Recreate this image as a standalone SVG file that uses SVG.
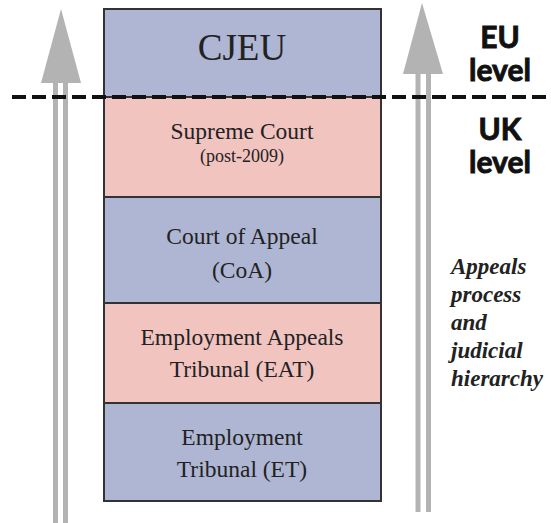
<svg xmlns="http://www.w3.org/2000/svg" width="551" height="523" viewBox="0 0 551 523">
<style>
.box{stroke:#333;stroke-width:2}
.blue{fill:#aeb6d3}
.pink{fill:#f1c4c0}
.t{font-family:"Liberation Serif",serif;fill:#222;text-anchor:middle;font-size:23.5px}
.lvl{font-family:Lato,"Open Sans",sans-serif;font-weight:bold;font-size:30px;fill:#111;stroke:#111;stroke-width:0.9px;text-anchor:middle}
.it{font-family:"Liberation Serif",serif;font-style:italic;font-weight:bold;font-size:23px;fill:#222}
.shaft{stroke:#b3b3b3;stroke-width:5;fill:none}
.head{fill:#b3b3b3}
</style>
<rect width="551" height="523" fill="#fff"/>
<g id="connectors">
<g id="arrow-left">
<line class="shaft" x1="55.5" y1="80" x2="55.5" y2="523"/>
<line class="shaft" x1="65.5" y1="80" x2="65.5" y2="523"/>
<polygon class="head" points="61,9 81,83 41,83"/>
</g>
<g id="arrow-right">
<line class="shaft" x1="418" y1="72" x2="418" y2="512"/>
<line class="shaft" x1="428.5" y1="72" x2="428.5" y2="512"/>
<polygon class="head" points="422,3 443,74 403,74"/>
</g>
</g>
<g id="cjeu"><rect class="box blue" x="104" y="9" width="277" height="88"/><text class="t" x="242" y="60" style="font-size:37px">CJEU</text></g>
<g id="supreme"><rect class="box pink" x="104" y="97" width="277" height="100"/><text class="t" x="242" y="139">Supreme Court</text><text class="t" x="242" y="162" style="font-size:18px">(post-2009)</text></g>
<g id="coa"><rect class="box blue" x="104" y="197" width="277" height="106"/><text class="t" x="242" y="244">Court of Appeal</text><text class="t" x="242" y="278">(CoA)</text></g>
<g id="eat"><rect class="box pink" x="104" y="303" width="277" height="100"/><text class="t" x="242" y="345">Employment Appeals</text><text class="t" x="242" y="377">Tribunal (EAT)</text></g>
<g id="et"><rect class="box blue" x="104" y="403" width="277" height="98"/><text class="t" x="242" y="445">Employment</text><text class="t" x="242" y="477">Tribunal (ET)</text></g>
<g id="divider"><line x1="12" y1="97" x2="551" y2="97" stroke="#111" stroke-width="4" stroke-dasharray="14,6"/></g>
<g id="levels">
<text class="lvl" x="500" y="48">EU</text>
<text class="lvl" x="500" y="81">level</text>
<text class="lvl" x="500" y="140">UK</text>
<text class="lvl" x="500" y="173">level</text>
</g>
<g id="caption">
<text class="it" x="451" y="274">Appeals</text>
<text class="it" x="451" y="302">process</text>
<text class="it" x="451" y="330">and</text>
<text class="it" x="451" y="358">judicial</text>
<text class="it" x="451" y="386">hierarchy</text>
</g>
</svg>
